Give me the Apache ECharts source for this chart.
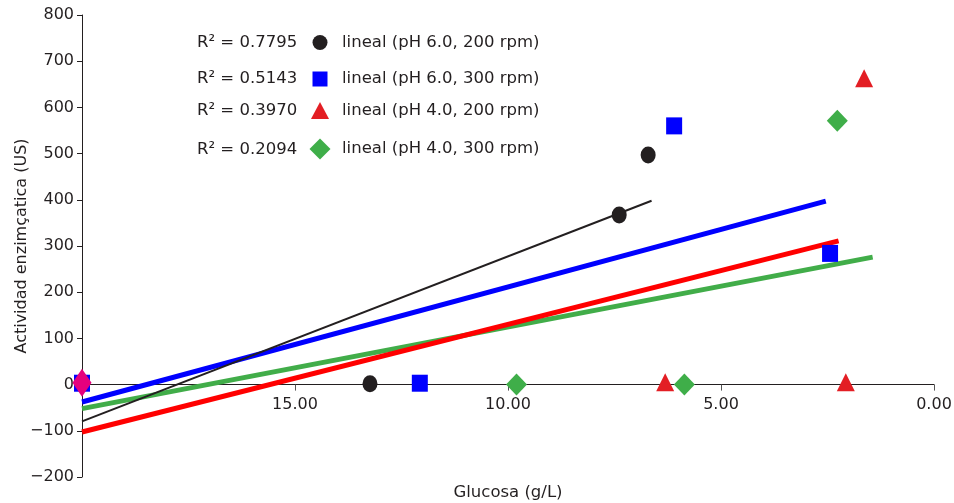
<!DOCTYPE html>
<html>
<head>
<meta charset="utf-8">
<script src="https://cdn.jsdelivr.net/npm/echarts@6/dist/echarts.min.js"></script>
<style>html,body{margin:0;padding:0;background:#fff}#c{width:954px;height:503px}</style>
</head>
<body>
<div id="c"></div>
<script>
// Data
var xTicks = [0, 5, 10, 15, 20];
var ph6_200 = [[13.24, 2], [7.39, 367], [6.71, 497]];
var ph6_300 = [[20, 3], [12.07, 3], [6.10, 560], [2.44, 284]];
var ph4_200 = [[6.31, 5], [2.07, 5], [1.64, 663]];
var ph4_300 = [[9.80, 0], [5.86, 0], [2.27, 571]];
var startPoint = [[20, 4]];
var trend6_200 = [[20, -79.5], [6.63, 398]];
var trend6_300 = [[20, -37.7], [2.54, 397]];
var trend4_200 = [[20, -102.7], [2.24, 311]];
var trend4_300 = [[20, -52], [1.44, 276]];
var names = ['lineal (pH 6.0, 200 rpm)', 'lineal (pH 6.0, 300 rpm)', 'lineal (pH 4.0, 200 rpm)', 'lineal (pH 4.0, 300 rpm)'];
var r2 = ['0.7795', '0.5143', '0.3970', '0.2094'];

var FONT = 'DejaVu Sans';
var TXT = '#231f20';
var rowY = [42, 78, 110.5, 149];
var icons = ['circle', 'rect', 'triangle', 'diamond'];
var iconSize = [[15, 16], [15, 15], [18, 17], [21, 21]];

var GRID_BOTTOM = 26, GRID_TOP = 15, H = 503;
var plotH = H - GRID_TOP - GRID_BOTTOM;
var zeroOffset = -plotH * (0 - (-200)) / (800 - (-200)); // move x axis up to y = 0

var legends = names.map(function (n, i) {
  return {
    data: [{ name: n, icon: icons[i] }],
    left: 320 - iconSize[i][0] / 2,
    top: rowY[i] - iconSize[i][1] / 2,
    itemWidth: iconSize[i][0],
    itemHeight: iconSize[i][1],
    padding: 0,
    selectedMode: false,
    textStyle: { fontFamily: FONT, fontSize: 16.5, color: TXT, padding: [0, 0, 0, 22 - iconSize[i][0] / 2 - 5] }
  };
});

var graphics = r2.map(function (v, i) {
  return {
    type: 'text', left: 197, top: rowY[i] - 8,
    style: { text: 'R² = ' + v, fontFamily: FONT, fontSize: 16.5, fill: TXT }
  };
});

var chart = echarts.init(document.getElementById('c'));
chart.setOption({
  animation: false,
  grid: { left: 82, right: 20, top: GRID_TOP, bottom: GRID_BOTTOM, outerBoundsMode: 'none', containLabel: false },
  legend: legends,
  graphic: graphics,
  xAxis: {
    type: 'value', min: 0, max: 20, interval: 5, inverse: true,
    offset: zeroOffset,
    name: 'Glucosa (g/L)', nameLocation: 'middle', nameGap: 100, nameMoveOverlap: false,
    nameTextStyle: { fontFamily: FONT, fontSize: 16.5, color: TXT },
    axisLine: { onZero: false, lineStyle: { color: TXT, width: 1 } },
    axisTick: { show: true, length: 6, lineStyle: { color: '#555' } },
    axisLabel: { fontFamily: FONT, fontSize: 16, color: TXT, margin: 12, showMaxLabel: false,
      formatter: function (v) { return v.toFixed(2); } },
    splitLine: { show: false }
  },
  yAxis: {
    type: 'value', min: -200, max: 800, interval: 100,
    name: 'Actividad enzimçatica (US)', nameLocation: 'middle', nameGap: 52, nameMoveOverlap: false,
    nameTextStyle: { fontFamily: FONT, fontSize: 16, color: TXT },
    axisLine: { show: true, onZero: false, lineStyle: { color: TXT, width: 1 } },
    axisTick: { show: true, length: 5, lineStyle: { color: TXT } },
    axisLabel: { fontFamily: FONT, fontSize: 16, color: TXT, margin: 8,
      formatter: function (v) { return String(v).replace('-', '\u2212'); } },
    splitLine: { show: false }
  },
  series: [
    { type: 'line', data: trend6_300, symbol: 'none', lineStyle: { color: '#0000ff', width: 5 }, z: 2 },
    { type: 'line', data: trend4_300, symbol: 'none', lineStyle: { color: '#41ad49', width: 5 }, z: 2 },
    { type: 'line', data: trend4_200, symbol: 'none', lineStyle: { color: '#ff0000', width: 5 }, z: 2 },
    { type: 'line', data: trend6_200, symbol: 'none', lineStyle: { color: '#231f20', width: 2 }, z: 2 },
    { name: names[0], type: 'scatter', data: ph6_200, symbol: 'circle', symbolSize: [15, 17], itemStyle: { color: '#231f20', opacity: 1 }, z: 5 },
    { name: names[1], type: 'scatter', data: ph6_300, symbol: 'rect', symbolSize: [16, 17], itemStyle: { color: '#0000ff', opacity: 1 }, z: 5 },
    { name: names[2], type: 'scatter', data: ph4_200, symbol: 'triangle', symbolSize: [18, 18], itemStyle: { color: '#e31e24', opacity: 1 }, z: 5 },
    { name: names[3], type: 'scatter', data: ph4_300, symbol: 'diamond', symbolSize: [21, 22], itemStyle: { color: '#3fae49', opacity: 1 }, z: 5 },
    { type: 'scatter', data: startPoint, symbol: 'diamond', symbolSize: [19, 28], itemStyle: { color: '#e5007d', opacity: 1 }, z: 6 }
  ]
});
</script>
</body>
</html>
